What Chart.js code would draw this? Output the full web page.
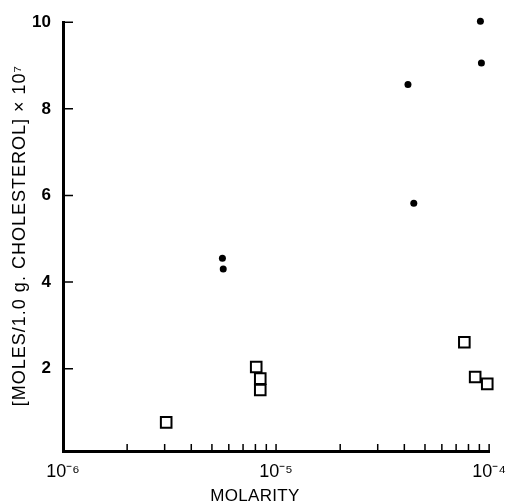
<!DOCTYPE html>
<html><head><meta charset="utf-8">
<script src="https://cdn.jsdelivr.net/npm/chart.js@4"></script>
<style>html,body{margin:0;padding:0;background:#fff}</style>
</head>
<body>
<canvas id="c" width="516" height="503"></canvas>
<script>
// ---- data ----
const dotX = [5.6e-6, 5.65e-6, 4.16e-5, 4.43e-5, 9.1e-5, 9.2e-5];
const dotY = [4.55, 4.30, 8.56, 5.82, 10.02, 9.06];
const squareX = [3.05e-6, 8.07e-6, 8.43e-6, 8.43e-6, 7.65e-5, 8.6e-5, 9.8e-5];
const squareY = [0.76, 2.04, 1.77, 1.51, 2.61, 1.81, 1.65];
const xTickValues = [1e-6,2e-6,3e-6,4e-6,5e-6,6e-6,7e-6,8e-6,9e-6,1e-5,2e-5,3e-5,4e-5,5e-5,6e-5,7e-5,8e-5,9e-5,1e-4];
const xMajorValues = [1e-6, 1e-5, 1e-4];
const xMajorLabels = ['10\u207B\u2076', '10\u207B\u2075', '10\u207B\u2074'];
const yTickValues = [2, 4, 6, 8, 10];
const yTitle = '[MOLES/1.0 g. CHOLESTEROL] \u00D7 10\u2077';
const xTitle = 'MOLARITY';

Chart.defaults.font.family = '"Liberation Sans", Arial, sans-serif';
Chart.defaults.color = '#000';

const inTicks = {
  id: 'inTicks',
  beforeDatasetsDraw(chart) {
    const {ctx, scales: {x, y}, chartArea: a} = chart;
    ctx.save();
    ctx.strokeStyle = '#000';
    ctx.lineWidth = 1.5;
    ctx.beginPath();
    x.ticks.forEach(t => {
      const px = x.getPixelForValue(t.value);
      ctx.moveTo(px, a.bottom);
      ctx.lineTo(px, a.bottom - 7);
    });
    y.ticks.forEach(t => {
      const py = y.getPixelForValue(t.value);
      ctx.moveTo(a.left, py);
      ctx.lineTo(a.left + 10, py);
    });
    ctx.stroke();
    ctx.fillStyle = '#000';
    ctx.textAlign = 'center';
    ctx.textBaseline = 'middle';
    try { ctx.letterSpacing = '0.3px'; } catch (e) {}
    ctx.font = '17px "Liberation Sans", Arial, sans-serif';
    ctx.fillText(xTitle, 255, 496);
    try { ctx.letterSpacing = '1px'; } catch (e) {}
    ctx.save();
    ctx.translate(20, (a.top + a.bottom) / 2 - 1);
    ctx.rotate(-Math.PI / 2);
    ctx.font = '18px "Liberation Sans", Arial, sans-serif';
    ctx.fillText(yTitle, 0, 0);
    ctx.restore();
    ctx.restore();
  }
};

new Chart(document.getElementById('c'), {
  type: 'scatter',
  data: {
    datasets: [
      {
        label: 'dots',
        data: dotX.map((v, i) => ({x: v, y: dotY[i]})),
        pointStyle: 'circle',
        pointRadius: 3.5,
        backgroundColor: '#000',
        borderColor: '#000',
        borderWidth: 0,
        clip: false
      },
      {
        label: 'squares',
        data: squareX.map((v, i) => ({x: v, y: squareY[i]})),
        pointStyle: 'rect',
        pointRadius: 7.5,
        backgroundColor: 'rgba(0,0,0,0)',
        borderColor: '#000',
        borderWidth: 2,
        clip: false
      }
    ]
  },
  options: {
    responsive: false,
    animation: false,
    devicePixelRatio: 1,
    layout: {padding: {left: 0, right: 23, top: 17, bottom: 0}},
    plugins: {legend: {display: false}, tooltip: {enabled: false}},
    scales: {
      x: {
        type: 'logarithmic',
        position: 'bottom',
        min: 1e-6,
        max: 1e-4,
        afterBuildTicks: s => { s.ticks = xTickValues.map(v => ({value: v})); },
        afterFit: s => { s.height = 52; },
        ticks: {
          autoSkip: false,
          maxRotation: 0,
          padding: 10,
          font: {size: 18},
          color: '#000',
          callback: v => {
            const i = xMajorValues.findIndex(m => Math.abs(m - v) / m < 1e-6);
            return i >= 0 ? xMajorLabels[i] : '';
          }
        },
        grid: {display: true, drawOnChartArea: false, drawTicks: false},
        border: {display: true, color: '#000', width: 3}
      },
      y: {
        type: 'linear',
        position: 'left',
        min: 0.1,
        max: 10,
        afterBuildTicks: s => { s.ticks = yTickValues.map(v => ({value: v})); },
        afterFit: s => { s.width = 63; },
        ticks: {
          padding: 12,
          font: {size: 17, weight: 'bold'},
          color: '#000'
        },
        grid: {display: true, drawOnChartArea: false, drawTicks: false},
        border: {display: true, color: '#000', width: 3}
      }
    }
  },
  plugins: [inTicks]
});
</script>
</body></html>
